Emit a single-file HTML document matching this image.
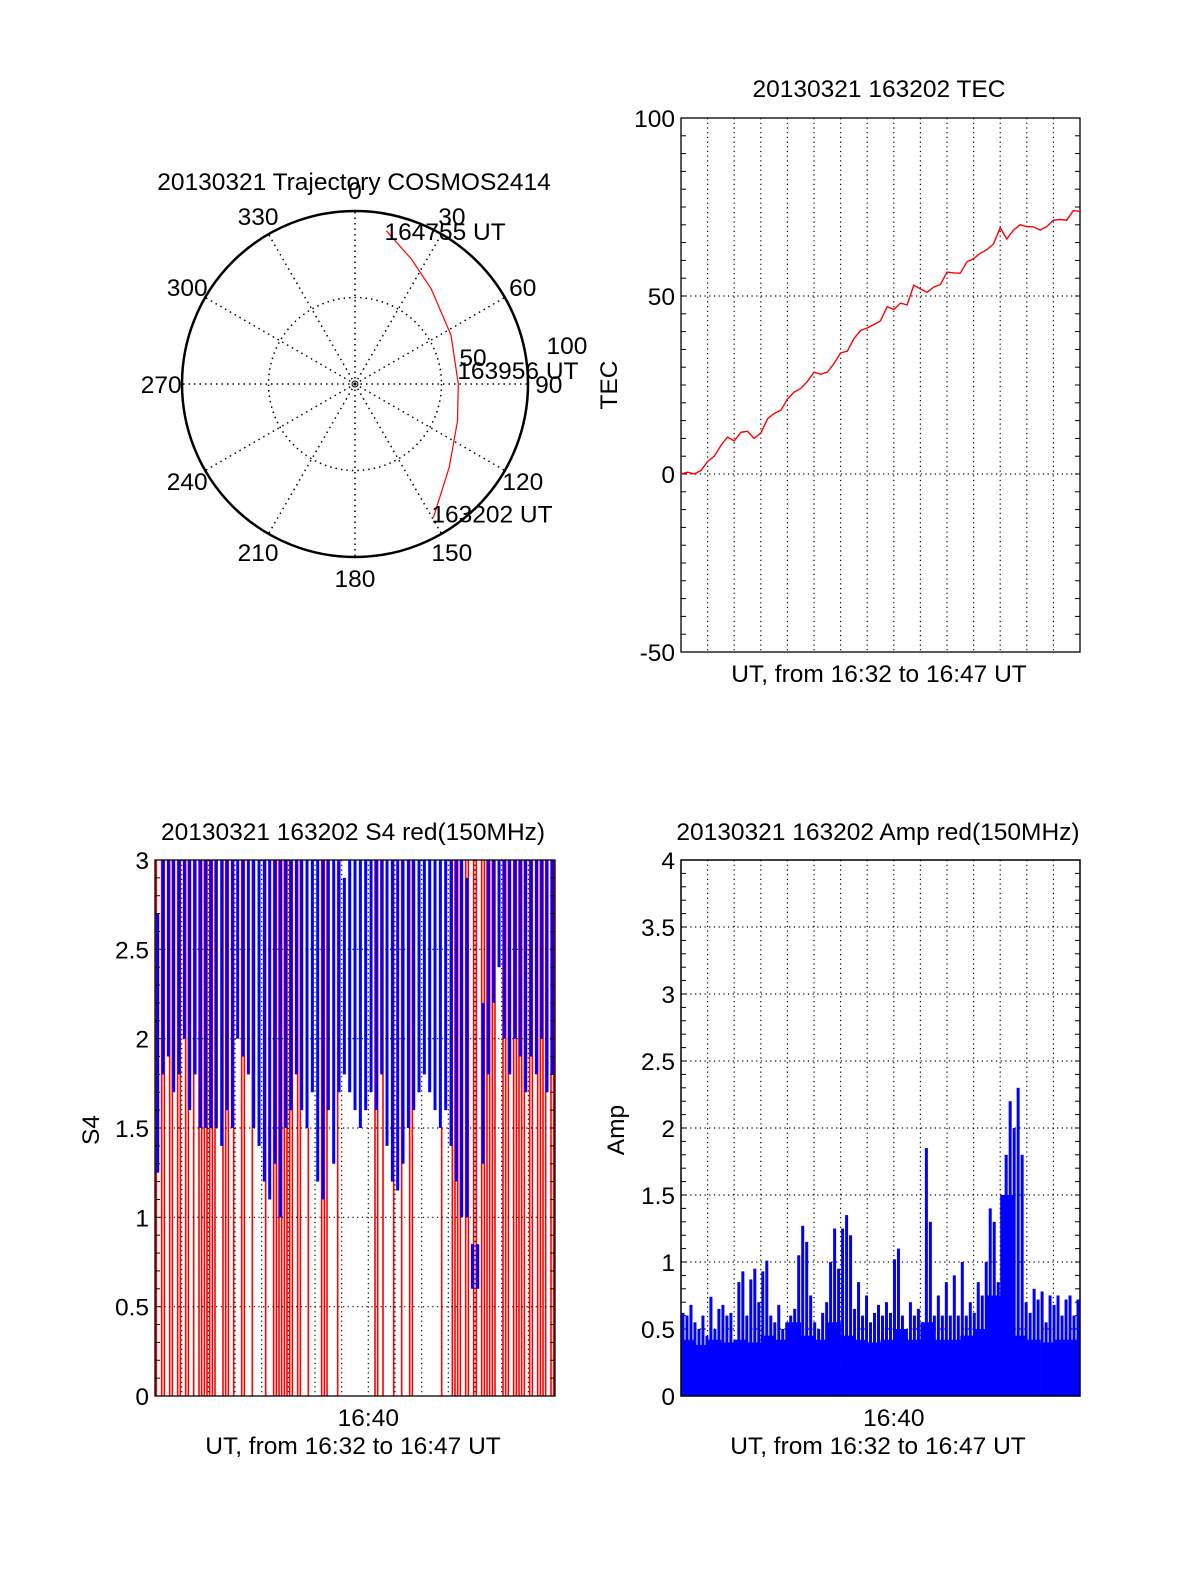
<!DOCTYPE html>
<html><head><meta charset="utf-8"><style>
html,body{margin:0;padding:0;background:#fff;}
svg{display:block;font-family:"Liberation Sans",sans-serif;}
</style></head>
<body>
<svg id="fig" width="1200" height="1575" viewBox="0 0 1200 1575" xmlns="http://www.w3.org/2000/svg">
<rect width="1200" height="1575" fill="#fff"/>
<g id="polar"></g>
<g id="tec"></g>
<g id="s4"></g>
<g id="amp"></g>
</svg>
<script>
// ---------- data ----------
const trajAz = [149.6,131.5,109.9,90,63,38.6,24.2,11.6];
const trajZen = [89.5,72.7,63.0,59.7,62.3,70.5,79.3,90.4];
const trajLabels = ["163202 UT","163956 UT","164755 UT"];
const azTicks = [0,30,60,90,120,150,180,210,240,270,300,330];

const tecTime = [0,0.25,0.5,0.75,1,1.25,1.5,1.75,2,2.25,2.5,2.75,3,3.25,3.5,3.75,4,4.25,4.5,4.75,5,5.25,5.5,5.75,6,6.25,6.5,6.75,7,7.25,7.5,7.75,8,8.25,8.5,8.75,9,9.25,9.5,9.75,10,10.25,10.5,10.75,11,11.25,11.5,11.75,12,12.25,12.5,12.75,13,13.25,13.5,13.75,14,14.25,14.5,14.75,15];
const tecValues = [0,0.5,0,1,3.5,5,8,10.4,9.3,11.7,12,10,11.5,15.5,17,17.9,21,23,24,26,28.6,28,28.6,31,34,34.5,38,40.3,41,42,43,47,46.2,48,47.5,53,52,51,52.5,53.2,56.7,56.5,56.4,59.6,60.5,62,63,64.6,69.2,66,68.5,70,69.5,69.4,68.5,69.5,71.3,71.5,71.3,74,73.8];
const tecTicks = [100,50,0,-50];

const s4Red = [3,0,3,3,0,3,3,0,3,3, 0,3,3,0,3,0,3,3,3,3, 3,3,3,0,0,3,3,3,0,3, 0,0,3,3,0,0,3,0,0,0,
 0,3,0,0,3,3,3,3,3,3, 3,3,0,3,3,0,0,1.5,0,0, 0,0,3,3,3,0,0,0,3,0, 0,0,0,0,0,0,0,0,0,0,
 0,0,3,3,0,3,0,0,0,3, 0,0,3,0,0,3,3,0,0,0, 0,0,0,0,0,0,0,1.5,0,0, 0,3,3,3,3,0,3,3,0,3,
 3,0,3,3,3,3,3,3,0,0, 3,3,3,0,3,3,3,3,3,0, 3,3,0,3,3,3,3,0,3,3];
const s4BlueLow = [1.25,1.8,1.9,1.7,1.8, 2.0,1.6,1.8,1.5,1.5, 1.5,1.5,1.4,1.6,1.5, 2.0,1.9,1.8,1.5,1.4,
 1.2,1.1,1.3,1.0,1.5, 1.6,1.8,1.6,1.5,1.7, 1.2,1.1,1.6,1.3,1.7, 1.8,1.7,1.6,1.5,1.6,
 1.7,1.6,1.8,1.4,1.2, 1.15,1.3,1.5,1.6,1.7, 1.8,1.7,1.6,1.5,1.6, 1.4,1.2,1.0,1.0,0.6,
 0.6,1.3,1.8,2.2,2.4, 2.0,1.8,2.0,1.9,1.7, 1.9,1.8,2.0,1.7,1.8];
const s4BlueHigh = [2.7,3,3,3,3, 3,3,3,3,3, 3,3,3,3,3, 3,3,3,3,3, 3,3,3,3,3, 3,3,3,3,3, 3,3,3,3,3, 2.9,3,3,3,3,
 3,3,3,3,3, 3,3,3,3,3, 3,3,3,3,3, 3,3,3,2.9,0.85, 0.85,2.2,3,3,3, 3,3,3,3,3, 3,3,3,3,3];
const s4Ticks = [0,0.5,1,1.5,2,2.5,3];

const ampPeak = [.62,.6,.68,.55,.5,.6,.45,.74,.5,.65, .68,.6,.62,.42,.85,.93,.6,.87,.95,.7,
 .93,1.01,.6,.55,.68,.5,.55,.6,.65,1.05, 1.27,1.15,.75,.55,.5,.62,.7,1.0,1.25,.95,
 1.25,1.35,1.2,.65,.85,.6,.75,.55,.62,.68, .6,.7,.62,1.02,1.1,.6,.5,.7,.6,.65,
 .55,1.85,1.3,.6,.75,.6,.85,.6,.9,.6, 1.0,.6,.7,.62,.85,.75,1.0,1.4,1.3,.85,
 .6,1.8,2.2,2.0,2.3,1.8,.7,.62,.8,.72, .78,.55,.75,.68,.75,.6,.72,.75,.6,.72];
const ampFloor = [.42,.38,.42,.4,.42,.4,.45,.42,.55,.45,.42,.55,.45,.42,.4,.42,.5,.42,.55,.42,.42,.45,.5,.75,1.5,.45,.42,.4,.42,.42];
const ampTicks = [0,0.5,1,1.5,2,2.5,3,3.5,4];

// ---------- helpers ----------
const NS = "http://www.w3.org/2000/svg";
const FS = 24.5;
function mk(parent, tag, attrs, name) {
  const e = document.createElementNS(NS, tag);
  for (const k in attrs) e.setAttribute(k, attrs[k]);
  
  
  parent.appendChild(e);
  return e;
}
function txt(parent, x, y, s, anchor, name, extra) {
  const t = mk(parent, 'text', Object.assign({x:x, y:y, 'font-size':FS, 'text-anchor':anchor||'middle', fill:'#000'}, extra||{}), name);
  t.textContent = s;
  return t;
}

// ---------- polar ----------
(function(){
  const g = document.getElementById('polar');
  const cx = 355, cy = 384, R = 173;
  const rr = v => v / 100 * R;
  const px = (az, z) => cx + rr(z) * Math.sin(az * Math.PI / 180);
  const py = (az, z) => cy - rr(z) * Math.cos(az * Math.PI / 180);
  txt(g, 354, 190, '20130321 Trajectory COSMOS2414', 'middle', 'polar-title');
  mk(g, 'circle', {cx:cx, cy:cy, r:rr(50), fill:'none', stroke:'#000', 'stroke-width':1.5, 'stroke-dasharray':'1.5,4'}, 'zenith-50-circle');
  azTicks.forEach(a => {
    mk(g, 'line', {x1:cx, y1:cy, x2:px(a,100), y2:py(a,100), stroke:'#000', 'stroke-width':1.5, 'stroke-dasharray':'1.5,4'}, 'radial-grid-' + a);
    const lx = px(a, 112), ly = py(a, 112) + 9;
    txt(g, lx, ly, String(a), 'middle', 'azimuth-label-' + a);
  });
  mk(g, 'circle', {cx:cx, cy:cy, r:R, fill:'none', stroke:'#000', 'stroke-width':2.5}, 'horizon-circle');
  mk(g, 'circle', {cx:cx, cy:cy, r:3, fill:'none', stroke:'#000', 'stroke-width':1}, 'center-mark');
  txt(g, 473, 366, '50', 'middle', 'zenith-label-50');
  txt(g, 567, 354, '100', 'middle', 'zenith-label-100');
  const pts = trajAz.map((a,i) => px(a, trajZen[i]).toFixed(1) + ',' + py(a, trajZen[i]).toFixed(1)).join(' ');
  mk(g, 'polyline', {points:pts, fill:'none', stroke:'#f00', 'stroke-width':1.2}, 'satellite-trajectory');
  const n = trajAz.length;
  txt(g, px(trajAz[0],trajZen[0]) - 2, py(trajAz[0],trajZen[0]) + 5, trajLabels[0], 'start', 'start-time-label');
  txt(g, px(trajAz[3],trajZen[3]) - 1, py(trajAz[3],trajZen[3]) - 5, trajLabels[1], 'start', 'mid-time-label');
  txt(g, px(trajAz[n-1],trajZen[n-1]) - 2, py(trajAz[n-1],trajZen[n-1]) + 9, trajLabels[2], 'start', 'end-time-label');
})();

// ---------- generic frame ----------
function frame(g, L, T, W, H, ymin, ymax, ticks, minorStep, hGrid, prefix) {
  const sx = t => L + t / 15 * W;
  const sy = v => T + H - (v - ymin) / (ymax - ymin) * H;
  return {sx, sy, draw: function(){
    for (let m = 1; m < 15; m++)
      mk(g, 'line', {x1:sx(m), y1:T, x2:sx(m), y2:T+H, stroke:'#000', 'stroke-width':1.2, 'stroke-dasharray':'1.2,3.5'}, prefix + '-vgrid-' + m);
    hGrid.forEach(v => mk(g, 'line', {x1:L, y1:sy(v), x2:L+W, y2:sy(v), stroke:'#000', 'stroke-width':1.2, 'stroke-dasharray':'1.2,3.5'}, prefix + '-hgrid'));
    for (let v = ymin; v <= ymax + 1e-9; v += minorStep) {
      const y = sy(v);
      mk(g, 'line', {x1:L, y1:y, x2:L+5, y2:y, stroke:'#000', 'stroke-width':1}, prefix + '-minor-tick-left');
      mk(g, 'line', {x1:L+W-5, y1:y, x2:L+W, y2:y, stroke:'#000', 'stroke-width':1}, prefix + '-minor-tick-right');
    }
    ticks.forEach(v => txt(g, L - 6, sy(v) + 9, String(v), 'end', prefix + '-ytick-' + v));
    mk(g, 'rect', {x:L, y:T, width:W, height:H, fill:'none', stroke:'#000', 'stroke-width':1.3}, prefix + '-plot-frame');
  }};
}

// ---------- TEC ----------
(function(){
  const g = document.getElementById('tec');
  const f = frame(g, 681, 118, 399, 534, -50, 100, tecTicks, 5, [50, 0], 'tec');
  f.draw();
  const pts = tecTime.map((t,i) => f.sx(t).toFixed(1) + ',' + f.sy(tecValues[i]).toFixed(1)).join(' ');
  mk(g, 'polyline', {points:pts, fill:'none', stroke:'#f00', 'stroke-width':1.4}, 'tec-line');
  txt(g, 879, 97, '20130321 163202 TEC', 'middle', 'tec-title');
  txt(g, 879, 682, 'UT, from 16:32 to 16:47 UT', 'middle', 'tec-x-axis-title');
  txt(g, 0, 0, 'TEC', 'middle', 'tec-y-axis-title', {transform:'translate(617,385) rotate(-90)'});
})();

// ---------- S4 ----------
(function(){
  const g = document.getElementById('s4');
  const f = frame(g, 155, 860, 400, 536, 0, 3, s4Ticks, 0.1, [0.5,1,1.5,2,2.5], 's4');
  const plot = mk(g, 'g', {}, 's4-series');
  const rStep = 15 / s4Red.length;
  s4Red.forEach((v,i) => {
    if (v <= 0) return;
    const x = f.sx((i + 0.5) * rStep);
    mk(plot, 'rect', {x:x-0.8, y:f.sy(v), width:1.6, height:f.sy(0)-f.sy(v), fill:'#f00'}, 's4-red-bar');
  });
  const bStep = 15 / s4BlueLow.length;
  s4BlueLow.forEach((lo,i) => {
    const hi = s4BlueHigh[i];
    const x0 = f.sx(i * bStep);
    mk(plot, 'rect', {x:x0+1.2, y:f.sy(hi), width:3, height:f.sy(lo)-f.sy(hi), fill:'#00f'}, 's4-blue-band');
  });
  f.draw();
  txt(g, 353, 840, '20130321 163202 S4 red(150MHz)', 'middle', 's4-title');
  txt(g, f.sx(8), 1426, '16:40', 'middle', 's4-xtick-1640');
  txt(g, 353, 1454, 'UT, from 16:32 to 16:47 UT', 'middle', 's4-x-axis-title');
  txt(g, 0, 0, 'S4', 'middle', 's4-y-axis-title', {transform:'translate(99,1130) rotate(-90)'});
})();

// ---------- Amp ----------
(function(){
  const g = document.getElementById('amp');
  const f = frame(g, 681, 860, 399, 536, 0, 4, ampTicks, 0.1, [0.5,1,1.5,2,2.5,3,3.5], 'amp');
  f.draw();
  const plot = mk(g, 'g', {}, 'amp-series');
  const fStep = 15 / ampFloor.length;
  ampFloor.forEach((v,i) => {
    mk(plot, 'rect', {x:f.sx(i*fStep), y:f.sy(v), width:f.sx(fStep)-f.sx(0)+0.3, height:f.sy(0)-f.sy(v), fill:'#00f'}, 'amp-floor-block');
  });
  const pStep = 15 / ampPeak.length;
  ampPeak.forEach((v,i) => {
    const x = f.sx((i + 0.5) * pStep);
    mk(plot, 'rect', {x:x-1.5, y:f.sy(v), width:3, height:f.sy(0)-f.sy(v), fill:'#00f'}, 'amp-bar');
  });
  mk(g, 'rect', {x:681, y:860, width:399, height:536, fill:'none', stroke:'#000', 'stroke-width':1.3}, 'amp-plot-frame-top');
  txt(g, 878, 840, '20130321 163202 Amp red(150MHz)', 'middle', 'amp-title');
  txt(g, f.sx(8), 1426, '16:40', 'middle', 'amp-xtick-1640');
  txt(g, 878, 1454, 'UT, from 16:32 to 16:47 UT', 'middle', 'amp-x-axis-title');
  txt(g, 0, 0, 'Amp', 'middle', 'amp-y-axis-title', {transform:'translate(624,1130) rotate(-90)'});
})();
</script>
</body></html>
